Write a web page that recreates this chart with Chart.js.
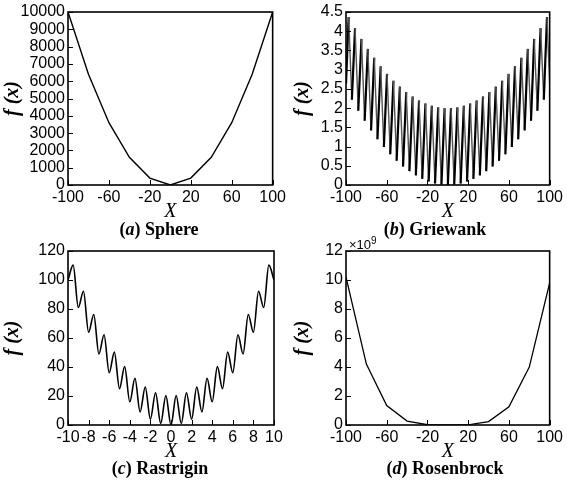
<!DOCTYPE html>
<html>
<head>
<meta charset="utf-8">
<script src="https://cdn.jsdelivr.net/npm/chart.js@4.4.1/dist/chart.umd.min.js"></script>
<style>
  html, body { margin: 0; padding: 0; background: #fff; }
  #wrap { position: relative; width: 567px; height: 484px; overflow: hidden; background: #fff; }
  canvas { position: absolute; }
  .cap { position: absolute; font-family: "Liberation Serif", serif; font-weight: bold; font-size: 18px; color: #000; white-space: nowrap; transform: translate(-50%, -50%); line-height: 1; }
  .exp { position: absolute; font-family: "Liberation Sans", sans-serif; font-size: 13px; color: #000; line-height: 1; }
  .exp sup { font-size: 10px; vertical-align: 5px; }
</style>
</head>
<body>
<div id="wrap">
  <canvas id="ca" width="290" height="222" style="left:0px;top:0px"></canvas>
  <canvas id="cb" width="277" height="222" style="left:290px;top:0px"></canvas>
  <canvas id="cc" width="290" height="230" style="left:0px;top:232px"></canvas>
  <canvas id="cd" width="277" height="230" style="left:290px;top:232px"></canvas>
  <div class="cap" style="left:159px;top:229px">(<i>a</i>) Sphere</div>
  <div class="cap" style="left:435px;top:229px">(<i>b</i>) Griewank</div>
  <div class="cap" style="left:160px;top:468px">(<i>c</i>) Rastrigin</div>
  <div class="cap" style="left:445px;top:468px">(<i>d</i>) Rosenbrock</div>
  <div class="exp" style="left:349px;top:236px">×10<sup>9</sup></div>
</div>
<script>
// ---------- data ----------
// (a) Sphere
const sphereX = [-100, -80, -60, -40, -20, 0, 20, 40, 60, 80, 100];
const sphereY = [10000, 6400, 3600, 1600, 400, 0, 400, 1600, 3600, 6400, 10000];

// (b) Griewank (alternating peaks / troughs)
const griewankX = [-100, -97.39, -94.25, -91.11, -87.96, -84.82, -81.68, -78.54, -75.40, -72.26, -69.12,
  -65.97, -62.83, -59.69, -56.55, -53.41, -50.27, -47.12, -43.98, -40.84, -37.70, -34.56, -31.42,
  -28.27, -25.13, -21.99, -18.85, -15.71, -12.57, -9.42, -6.28, -3.14, 0,
  3.14, 6.28, 9.42, 12.57, 15.71, 18.85, 21.99, 25.13, 28.27, 31.42, 34.56, 37.70, 40.84, 43.98,
  47.12, 50.27, 53.41, 56.55, 59.69, 62.83, 65.97, 69.12, 72.26, 75.40, 78.54, 81.68, 84.82, 87.96,
  91.11, 94.25, 97.39, 100];
const griewankY = [2.64, 4.37, 2.22, 4.08, 1.93, 3.80, 1.67, 3.54, 1.42, 3.31, 1.19,
  3.09, 0.99, 2.89, 0.80, 2.71, 0.63, 2.56, 0.48, 2.42, 0.36, 2.30, 0.25,
  2.20, 0.16, 2.12, 0.09, 2.06, 0.04, 2.02, 0.01, 2.00, 0,
  2.00, 0.01, 2.02, 0.04, 2.06, 0.09, 2.12, 0.16, 2.20, 0.25, 2.30, 0.36, 2.42, 0.48,
  2.56, 0.63, 2.71, 0.80, 2.89, 0.99, 3.09, 1.19, 3.31, 1.42, 3.54, 1.67, 3.80, 1.93,
  4.08, 2.22, 4.37, 2.64];

// (c) Rastrigin (local minima and maxima)
const rastriginX = [-10, -9.5, -9, -8.5, -8, -7.5, -7, -6.5, -6, -5.5, -5, -4.5, -4, -3.5, -3, -2.5, -2, -1.5, -1, -0.5, 0,
  0.5, 1, 1.5, 2, 2.5, 3, 3.5, 4, 4.5, 5, 5.5, 6, 6.5, 7, 7.5, 8, 8.5, 9, 9.5, 10];
const rastriginY = [100, 110.25, 81, 92.25, 64, 76.25, 49, 62.25, 36, 50.25, 25, 40.25, 16, 32.25, 9, 26.25, 4, 22.25, 1, 20.25, 0,
  20.25, 1, 22.25, 4, 26.25, 9, 32.25, 16, 40.25, 25, 50.25, 36, 62.25, 49, 76.25, 64, 92.25, 81, 110.25, 100];

// (d) Rosenbrock
const rosenX = [-100, -80, -60, -40, -20, 0, 20, 40, 60, 80, 100];
const rosenY = [10.2e9, 4.2e9, 1.34e9, 0.27e9, 0.018e9, 0, 0.014e9, 0.24e9, 1.25e9, 3.99e9, 9.8e9];

// tick setups
const xTicksAB = { min: -100, max: 100, step: 40 };
const xTicksC = { min: -10, max: 10, step: 2 };
const yTicksA = { min: 0, max: 10000, step: 1000 };
const yTicksB = { min: 0, max: 4.5, step: 0.5 };
const yTicksC = { min: 0, max: 120, step: 20 };
const yTicksD = { min: 0, max: 12e9, step: 2e9 };

// ---------- helpers ----------
const tickFont = { family: 'Liberation Sans', size: 16, lineHeight: 1.1 };
const frameTicks = {
  id: 'frameTicks',
  afterDatasetsDraw(chart) {
    const { ctx, chartArea: a, scales: { x, y } } = chart;
    ctx.save();
    ctx.strokeStyle = '#000';
    ctx.lineWidth = 1;
    ctx.beginPath();
    x.ticks.forEach(t => {
      const px = Math.round(x.getPixelForValue(t.value)) + 0.5;
      ctx.moveTo(px, a.bottom); ctx.lineTo(px, a.bottom - 5);
    });
    y.ticks.forEach(t => {
      const py = Math.round(y.getPixelForValue(t.value)) + 0.5;
      ctx.moveTo(a.left, py); ctx.lineTo(a.left + 5, py);
    });
    ctx.stroke();
    ctx.lineWidth = 1.6;
    ctx.strokeRect(a.left, a.top, a.right - a.left, a.bottom - a.top);
    ctx.restore();
  }
};

function makeChart(id, xs, ys, xt, yt, geo, dsExtra, yFmt) {
  const ds = Object.assign({
    data: xs.map((v, i) => ({ x: v, y: ys[i] })),
    borderColor: '#000',
    borderWidth: 1.4,
    pointRadius: 0,
    fill: false,
    tension: 0
  }, dsExtra || {});
  return new Chart(document.getElementById(id), {
    type: 'line',
    data: { datasets: [ds] },
    plugins: [frameTicks],
    options: {
      responsive: false,
      animation: false,
      devicePixelRatio: 1,
      layout: { padding: { left: 0, top: geo.top, right: geo.right, bottom: 0 } },
      plugins: { legend: { display: false }, tooltip: { enabled: false }, title: { display: false } },
      scales: {
        x: {
          type: 'linear', min: xt.min, max: xt.max,
          grid: { display: false, drawTicks: false }, border: { display: false },
          ticks: { stepSize: xt.step, font: tickFont, color: '#000', padding: 4, autoSkip: false, maxRotation: 0, minRotation: 0 },
          title: { display: true, text: 'X', color: '#000', padding: 0,
                   font: { family: 'Liberation Serif', size: 20, style: 'italic', lineHeight: 1 } },
          afterFit(s) { s.height = geo.xh; }
        },
        y: {
          type: 'linear', min: yt.min, max: yt.max,
          grid: { display: false, drawTicks: false }, border: { display: false },
          ticks: { stepSize: yt.step, font: tickFont, color: '#000', padding: 3, autoSkip: false,
                   callback: yFmt || (v => v) },
          title: { display: true, text: 'f (x)', color: '#000', padding: { top: 2, bottom: 0 },
                   font: { family: 'Liberation Serif', size: 20, style: 'italic', weight: 'bold', lineHeight: 1.1 } },
          afterFit(s) { s.width = geo.left; }
        }
      }
    }
  });
}

makeChart('ca', sphereX, sphereY, xTicksAB, yTicksA, { left: 68, top: 12, right: 17, xh: 37 });
makeChart('cb', griewankX, griewankY, xTicksAB, yTicksB, { left: 56, top: 12, right: 16, xh: 37 }, {
  borderWidth: 1,
  segment: {
    borderColor: c => c.p1.parsed.y > c.p0.parsed.y ? '#000' : '#555',
    borderWidth: c => c.p1.parsed.y > c.p0.parsed.y ? 2.2 : 1.4
  }
});
makeChart('cc', rastriginX, rastriginY, xTicksC, yTicksC, { left: 68, top: 19, right: 16, xh: 37 },
  { cubicInterpolationMode: 'monotone', borderWidth: 1.6 });
makeChart('cd', rosenX, rosenY, xTicksAB, yTicksD, { left: 56, top: 19, right: 16, xh: 37 }, { borderWidth: 1.3 },
  v => v / 1e9);
</script>
</body>
</html>
